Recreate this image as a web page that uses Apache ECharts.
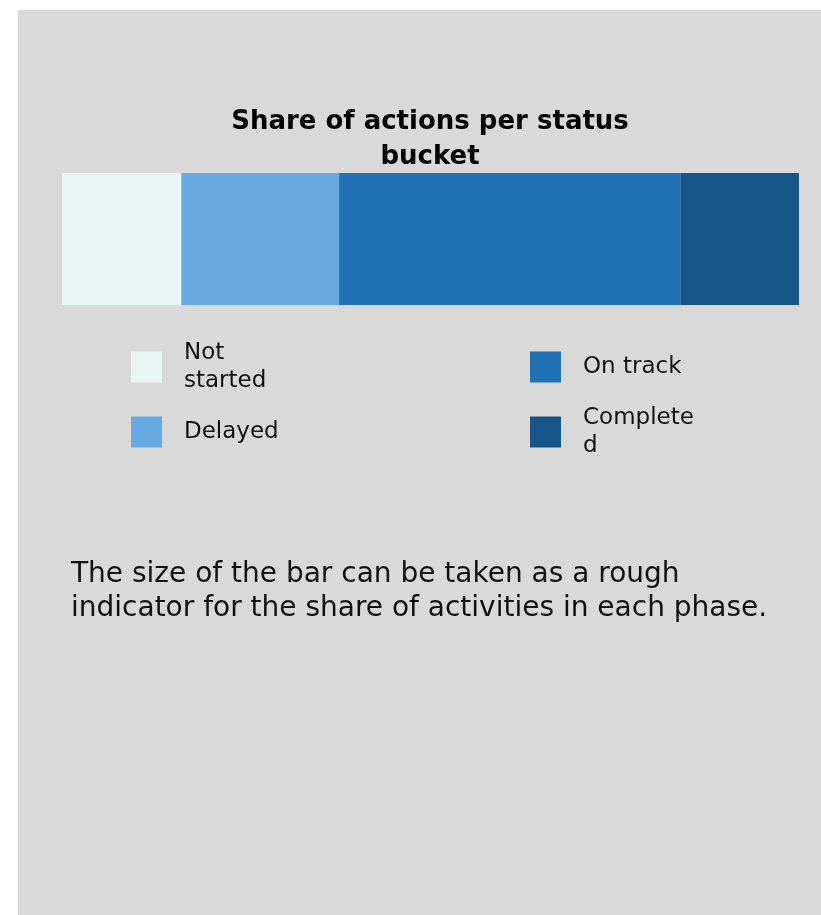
<!DOCTYPE html>
<html>
<head>
<meta charset="utf-8">
<script src="https://cdn.jsdelivr.net/npm/echarts@6/dist/echarts.min.js"></script>
<style>
  html, body { margin: 0; padding: 0; background: #ffffff; width: 821px; height: 915px; overflow: hidden; }
  #chart { position: absolute; left: 18px; top: 10px; width: 803px; height: 905px; background: #d9d9d9; }
</style>
</head>
<body>
<div id="chart"></div>
<script>
// ---- data ----
const categories = ['Not started', 'Delayed', 'On track', 'Completed'];
const shares = [16.2, 21.4, 46.3, 16.1];
const legendLabels = ['Not\nstarted', 'Delayed', 'On track', 'Complete\nd'];
const colors = ['#e8f5f5', '#67a9e3', '#2171b5', '#185589'];
const titleText = 'Share of actions per status\nbucket';
const noteText = 'The size of the bar can be taken as a rough\nindicator for the share of activities in each phase.';

const total = shares.reduce((a, b) => a + b, 0);
const FONT = '"DejaVu Sans"';

const chart = echarts.init(document.getElementById('chart'), null, { renderer: 'canvas' });

const series = categories.map((c, i) => ({
  name: c,
  type: 'bar',
  stack: 'total',
  barWidth: '100%',
  data: [shares[i]],
  itemStyle: { color: colors[i] },
  emphasis: { disabled: true },
  silent: true
}));

function makeLegend(i, left, top) {
  return {
    data: [categories[i]],
    left: left,
    top: top,
    padding: 0,
    orient: 'vertical',
    icon: 'rect',
    itemWidth: 31,
    itemHeight: 31,
    selectedMode: false,
    formatter: () => legendLabels[i],
    textStyle: {
      fontFamily: FONT,
      fontSize: 23,
      lineHeight: 28,
      color: '#111111',
      padding: [4, 0, 0, 17]
    }
  };
}

chart.setOption({
  animation: false,
  backgroundColor: 'transparent',
  title: [
    {
      text: titleText,
      left: 412,
      top: 95,
      padding: 0,
      textAlign: 'center',
      textStyle: { fontFamily: FONT, fontWeight: 'bold', fontSize: 26, lineHeight: 35, color: '#000000' }
    },
    {
      text: noteText,
      left: 53,
      top: 548,
      padding: 0,
      textStyle: { fontFamily: FONT, fontWeight: 'normal', fontSize: 28, lineHeight: 34, color: '#111111' }
    }
  ],
  legend: [
    makeLegend(0, 113, 327),
    makeLegend(1, 113, 406),
    makeLegend(2, 512, 341),
    makeLegend(3, 512, 392)
  ],
  grid: { left: 44, top: 163, width: 737, height: 132, containLabel: false },
  xAxis: { type: 'value', min: 0, max: total, show: false },
  yAxis: { type: 'category', data: [''], show: false },
  series: series
});
</script>
</body>
</html>
